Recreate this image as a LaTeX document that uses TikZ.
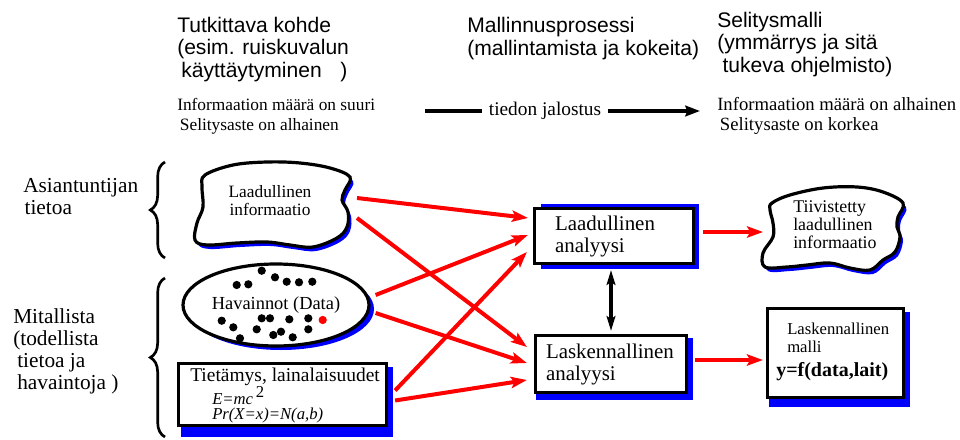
\documentclass[tikz,border=0pt]{standalone}
\usepackage{fontspec}
\setmainfont{Liberation Serif}
\setsansfont{Liberation Sans}
\usetikzlibrary{arrows.meta,decorations.pathreplacing,shapes.geometric,calc}
\newdimen\pxu \pxu=0.75pt
\begin{document}
\begin{tikzpicture}[x=0.75pt,y=-0.75pt,
  hdr/.style={font=\sffamily\fontsize{15.8}{16.9}\selectfont, align=left, anchor=west, inner sep=0},
  info/.style={font=\rmfamily\fontsize{13}{15}\selectfont, align=left, anchor=west, inner sep=0},
  side/.style={font=\rmfamily\fontsize{16}{16.5}\selectfont, align=left, anchor=west, inner sep=0},
  blackbox/.style={draw=black, line width=2.4pt, fill=white, rectangle},
  redarrow/.style={draw=red, line width=3pt, -{Stealth[length=12pt,width=8.5pt,inset=2.5pt]}},
  blackarrow/.style={draw=black, line width=2.4pt, {Stealth[length=11pt,width=6.5pt,inset=2pt]}-{Stealth[length=11pt,width=6.5pt,inset=2pt]}},
  bracestyle/.style={draw=black, line width=2pt, decorate, decoration={brace, amplitude=11pt}},
  shade/.style={fill=blue}]

\useasboundingbox (0,0) rectangle (960,439);

% --- column headings ---
\node[hdr] (h1) at (177,49.5) {Tutkittava kohde\\(esim. ruiskuvalun\\\hspace*{3pt}käyttäytyminen\hspace*{14pt})};
\node[hdr] (h2) at (467,38.5) {Mallinnusprosessi\\(mallintamista ja kokeita)};
\node[hdr] (h3) at (717,44.5) {Selitysmalli\\(ymmärrys ja sitä\\\hspace*{4pt}tukeva ohjelmisto)};

% --- information level lines ---
\node[info] (i1) at (177,116) {Informaation määrä on suuri\\\hspace*{2pt}Selitysaste on alhainen};
\node[info, anchor=center, font=\rmfamily\fontsize{14.5}{15}\selectfont] (tj) at (545,111) {tiedon jalostus};
\node[info, font=\rmfamily\fontsize{14}{15}\selectfont] (i2) at (717,116) {Informaation määrä on alhainen\\\hspace*{2pt}Selitysaste on korkea};
\coordinate (jl) at (425,111);
\coordinate (jr) at (700,111);
\draw[line width=2.6pt] (jl) -- ($(tj.west)+(-7,0)$);
\draw[line width=2.6pt, -{Stealth[length=11pt,width=8pt,inset=1.5pt]}] ($(tj.east)+(7,0)$) -- (jr);

% --- side labels and braces ---
\node[side] (s1) at (23,197) {Asiantuntijan\\\hspace*{1pt}tietoa};
\node[side] (s2) at (13,351) {Mitallista\\(todellista\\\hspace*{3pt}tietoa ja\\\hspace*{3pt}havaintoja )};
\coordinate (b1a) at (165,258);
\coordinate (b1b) at (165,162);
\coordinate (b2a) at (165,437);
\coordinate (b2b) at (165,278);
\draw[bracestyle] (b1a) -- (b1b);
\draw[bracestyle] (b2a) -- (b2b);

% --- cloud: qualitative information ---
\fill[shade, shift={(3,4)}] plot[smooth cycle, tension=0.6] coordinates {(205,175) (233,165) (267,162) (300,163) (330,168) (350,177) (345,190) (342,200) (348,212) (347,227) (337,238) (313,247) (290,245) (267,242) (237,243) (207,245) (195,240) (197,223) (203,207) (202,187)};
\draw[line width=2.4pt, fill=white] plot[smooth cycle, tension=0.6] coordinates {(205,175) (233,165) (267,162) (300,163) (330,168) (350,177) (345,190) (342,200) (348,212) (347,227) (337,238) (313,247) (290,245) (267,242) (237,243) (207,245) (195,240) (197,223) (203,207) (202,187)};
\node[align=center, inner sep=0, font=\rmfamily\fontsize{13}{13.5}\selectfont] (c1t) at (270,201) {Laadullinen\\informaatio};
\coordinate (c1p1) at (357,198);
\coordinate (c1p2) at (357,218);

% --- ellipse: observations ---
\fill[shade] (281,309) ellipse [x radius=93\pxu, y radius=41\pxu];
\node[ellipse, draw, line width=2.4pt, fill=white, minimum width=186\pxu, minimum height=82\pxu, inner sep=0, font=\rmfamily\fontsize{13.8}{14}\selectfont] (hav) at (276,305) {Havainnot (Data)};
\foreach \p in {(261.7,270.7),(275,277.3),(286.7,281.7),(299,282.3),(312.3,281.7),(236.7,285),(248.3,284.3),(221.7,320.7),(233.3,327.3),(240,338.3),(261.7,318.3),(270,318.3),(256.7,329.3),(273.3,335),(281,331.7),(289.3,319.3),(292.7,337.3),(308.3,318.3),(308.3,329.3)}
  \fill[black] \p circle[radius=3.1pt];
\fill[red] (322.7,320) circle[radius=3.1pt];

% --- box: knowledge and laws ---
\fill[shade] (181,367) rectangle (393,437);
\node[blackbox, minimum width=208\pxu, minimum height=62\pxu, inner sep=0] (tb) at (282.5,394.5) {};
\node[anchor=west, inner sep=0, font=\rmfamily\fontsize{14.6}{15}\selectfont] (tbt) at (190,377) {Tietämys, lainalaisuudet};
\node[anchor=base west, inner sep=0, font=\rmfamily\itshape\fontsize{12.5}{13}\selectfont] (emc) at (212,404) {E=mc\raisebox{4.8pt}{\upshape\fontsize{12.5}{13}\selectfont\,2}};
\node[anchor=base west, inner sep=0, font=\rmfamily\itshape\fontsize{12.5}{13}\selectfont] (prx) at (212,419) {Pr(X=x)=N(a,b)};

% --- analysis boxes ---
\fill[shade] (541,204) rectangle (699,269);
\node[blackbox, minimum width=159\pxu, minimum height=55\pxu, text width=118\pxu, inner xsep=20.5\pxu, inner ysep=0, align=left, font=\rmfamily\fontsize{15.7}{16.5}\selectfont] (la) at (614,236) {Laadullinen\\analyysi};
\fill[shade] (536,338) rectangle (693,400);
\node[blackbox, minimum width=151\pxu, minimum height=57\pxu, text width=130\pxu, inner xsep=10.5\pxu, inner ysep=0, align=left, font=\rmfamily\fontsize{15.7}{16.5}\selectfont] (lk) at (611,364) {Laskennallinen\\analyysi};

% --- cloud: condensed qualitative information ---
\fill[shade, shift={(3,4)}] plot[smooth cycle, tension=0.6] coordinates {(772,203) (790,195) (823,188) (857,187) (883,192) (903,203) (898,217) (897,227) (900,237) (895,252) (883,260) (870,270) (850,268) (830,263) (807,265) (787,267) (765,267) (763,253) (773,237) (773,223) (770,210)};
\draw[line width=2.4pt, fill=white] plot[smooth cycle, tension=0.6] coordinates {(772,203) (790,195) (823,188) (857,187) (883,192) (903,203) (898,217) (897,227) (900,237) (895,252) (883,260) (870,270) (850,268) (830,263) (807,265) (787,267) (765,267) (763,253) (773,237) (773,223) (770,210)};
\node[anchor=west, align=left, inner sep=0, font=\rmfamily\fontsize{13.4}{13.5}\selectfont] (c2t) at (793,225) {Tiivistetty\\laadullinen\\informaatio};
\coordinate (c2in) at (763,232);

% --- box: computational model ---
\fill[shade] (769,312) rectangle (910,407);
\node[blackbox, minimum width=136\pxu, minimum height=89\pxu, inner sep=0] (lm) at (835.5,353) {};
\node[anchor=west, align=left, inner sep=0, font=\rmfamily\fontsize{12.5}{13.5}\selectfont] (lmt) at (787,338) {Laskennallinen\\malli};
\node[anchor=west, inner sep=0, font=\rmfamily\bfseries\fontsize{15}{16}\selectfont] (lmf) at (776,372) {y=f(data,lait)};

% --- connectors ---
\draw[redarrow] (c1p1) -- ($(la.west)+(-5,-18)$);
\draw[redarrow] (c1p2) -- ($(lk.west)+(-7,-17)$);
\draw[redarrow] ($(hav.east)+(5,-10)$) -- ($(la.west)+(-5,-1)$);
\draw[redarrow] ($(hav.east)+(5,8)$) -- ($(lk.west)+(-7,-1)$);
\draw[redarrow] ($(tb.east)+(7,-4)$) -- ($(la.west)+(-6,16)$);
\draw[redarrow] ($(tb.east)+(7,6)$) -- ($(lk.west)+(-7,16)$);
\draw[redarrow] ($(la.east)+(8,-4)$) -- (c2in);
\draw[redarrow] ($(lk.east)+(7,-4)$) -- ($(lm.west)+(-3,7)$);
\draw[blackarrow] ($(lk.north |- la.south)+(0,5)$) -- ($(lk.north)+(0,-3)$);

\end{tikzpicture}
\end{document}
